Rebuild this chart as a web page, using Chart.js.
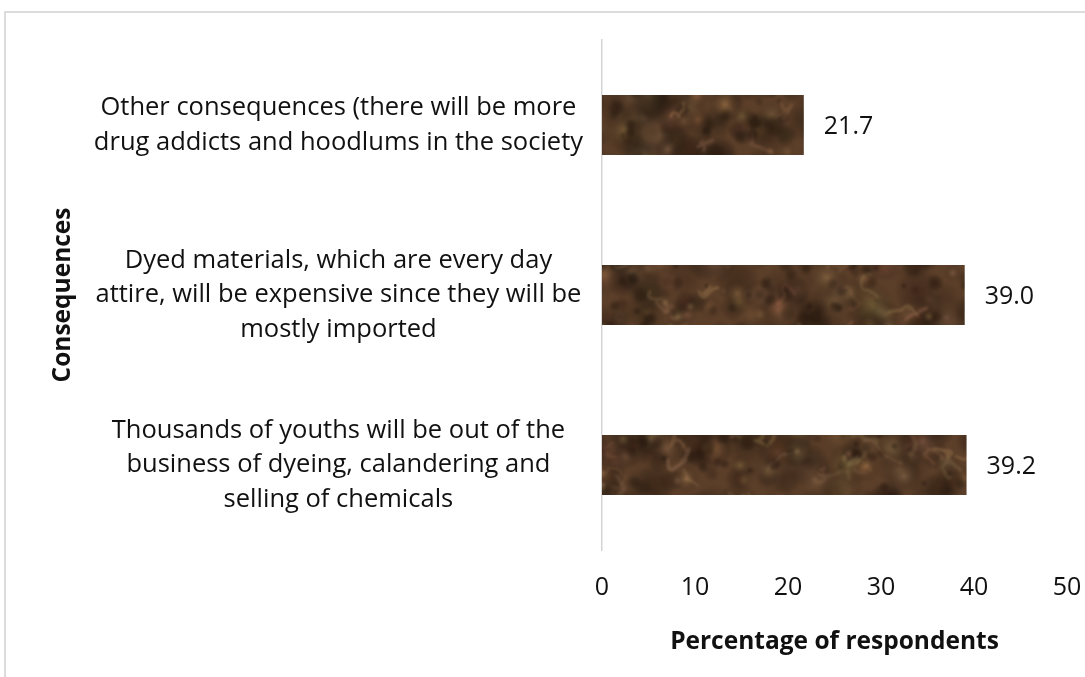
<!DOCTYPE html>
<html>
<head>
<meta charset="utf-8">
<script src="https://cdn.jsdelivr.net/npm/chart.js@4.4.1/dist/chart.umd.min.js"></script>
<style>
  html, body { margin: 0; padding: 0; background: #fff; }
  #wrap { position: relative; width: 1085px; height: 677px; }
  #frame { position: absolute; left: 4px; top: 11px; right: -10px; bottom: -10px;
           border-left: 2px solid #dcdcdc; border-top: 2px solid #dcdcdc; pointer-events: none; }
  canvas { position: absolute; left: 0; top: 0; }
</style>
</head>
<body>
<div id="wrap">
  <canvas id="c" width="1085" height="677"></canvas>
  <div id="frame"></div>
</div>
<script>
// ---- Data ----
const categories = [
  ["Other consequences (there will be more", "drug addicts and hoodlums in the society"],
  ["Dyed materials, which are every day", "attire, will be expensive since they will be", "mostly imported"],
  ["Thousands of youths will be out of the", "business of dyeing, calandering and", "selling of chemicals"]
];
const percentages = [21.7, 39.0, 39.2];
const xTicks = [0, 10, 20, 30, 40, 50];
const xTitle = "Percentage of respondents";
const yTitle = "Consequences";

// ---- Marble-like brown texture for bars (style only) ----
function makeTexture() {
  const c = document.createElement('canvas');
  c.width = 1085; c.height = 677;
  const g = c.getContext('2d');
  g.fillStyle = 'rgb(92,63,41)';
  g.fillRect(0, 0, c.width, c.height);
  let s = 24680;
  const rnd = () => { s = (s * 1103515245 + 12345) % 2147483648; return s / 2147483648; };
  const blob = (x, y, r, col) => {
    const grd = g.createRadialGradient(x, y, 0, x, y, r);
    grd.addColorStop(0, col);
    grd.addColorStop(1, 'rgba(0,0,0,0)');
    g.fillStyle = grd;
    g.beginPath(); g.arc(x, y, r, 0, Math.PI * 2); g.fill();
  };
  for (let i = 0; i < 2600; i++) {
    const x = rnd() * c.width, y = rnd() * c.height, r = 6 + rnd() * 20;
    if (rnd() < 0.5) blob(x, y, r, `rgba(${155 + rnd()*40|0},${116 + rnd()*30|0},${78 + rnd()*20|0},${0.22 + rnd()*0.28})`);
    else blob(x, y, r, `rgba(${40 + rnd()*20|0},${25 + rnd()*12|0},${14 + rnd()*8|0},${0.28 + rnd()*0.32})`);
  }
  g.lineCap = 'round';
  for (let i = 0; i < 500; i++) {
    g.strokeStyle = `rgba(${170 + rnd()*40|0},${134 + rnd()*30|0},${95 + rnd()*20|0},${0.12 + rnd()*0.2})`;
    g.lineWidth = 1.5 + rnd() * 2.5;
    g.beginPath();
    let x = rnd() * c.width, y = rnd() * c.height;
    g.moveTo(x, y);
    for (let k = 0; k < 3; k++) {
      const nx = x + (rnd() - 0.5) * 30, ny = y + (rnd() - 0.5) * 24;
      g.quadraticCurveTo(x + (rnd() - 0.5) * 16, y + (rnd() - 0.5) * 16, nx, ny);
      x = nx; y = ny;
    }
    g.stroke();
  }
  for (let i = 0; i < 1200; i++) {
    const x = rnd() * c.width, y = rnd() * c.height, r = 3 + rnd() * 6;
    blob(x, y, r, `rgba(${30 + rnd()*20|0},${18 + rnd()*10|0},${10 + rnd()*6|0},${0.3 + rnd()*0.3})`);
  }
  const out = document.createElement('canvas');
  out.width = c.width; out.height = c.height;
  const o = out.getContext('2d');
  o.filter = 'blur(1px)';
  o.drawImage(c, 0, 0);
  o.filter = 'none';
  return out;
}
const ctx = document.getElementById('c').getContext('2d');
const pattern = ctx.createPattern(makeTexture(), 'no-repeat');

const FONT = "'Open Sans', sans-serif";
const TXT = '#111';

const valueLabels = {
  id: 'valueLabels',
  afterDatasetsDraw(chart) {
    const g = chart.ctx;
    const meta = chart.getDatasetMeta(0);
    g.save();
    g.font = `25px ${FONT}`;
    g.fillStyle = TXT;
    g.textAlign = 'left';
    g.textBaseline = 'middle';
    meta.data.forEach((bar, i) => {
      g.fillText(percentages[i].toFixed(1), bar.x + 20, bar.y + 2);
    });
    g.restore();
  }
};

new Chart(ctx, {
  type: 'bar',
  data: {
    labels: categories,
    datasets: [{
      data: percentages,
      backgroundColor: pattern,
      borderWidth: 0,
      barPercentage: 0.7,
      categoryPercentage: 0.505
    }]
  },
  options: {
    indexAxis: 'y',
    responsive: false,
    animation: false,
    events: [],
    layout: { padding: { left: 48, top: 40, right: 18, bottom: 20 } },
    plugins: { legend: { display: false }, tooltip: { enabled: false } },
    scales: {
      x: {
        min: 0, max: 50,
        afterBuildTicks(scale) { scale.ticks = xTicks.map(v => ({ value: v })); },
        afterFit(scale) { scale.height = 107; scale.paddingLeft = 0; scale.paddingRight = 0; },
        grid: { display: false, drawTicks: false },
        border: { display: false },
        ticks: { padding: 23, color: TXT, font: { family: FONT, size: 25 } },
        title: { display: true, text: xTitle, color: TXT,
                 font: { family: FONT, size: 24.5, weight: 'bold' }, padding: { top: 17, bottom: 0 } }
      },
      y: {
        afterFit(scale) { scale.width = 554; scale.paddingTop = 0; scale.paddingBottom = 0; },
        grid: { display: false, drawTicks: false },
        border: { display: true, color: '#d4d4d4', width: 1.5 },
        ticks: { padding: 19, crossAlign: 'center', color: TXT,
                 font: { family: FONT, size: 25.5, lineHeight: 1.36 } },
        title: { display: true, text: yTitle, color: TXT,
                 font: { family: FONT, size: 24.5, weight: 'bold' }, padding: 0 }
      }
    }
  },
  plugins: [valueLabels]
});
</script>
</body>
</html>
